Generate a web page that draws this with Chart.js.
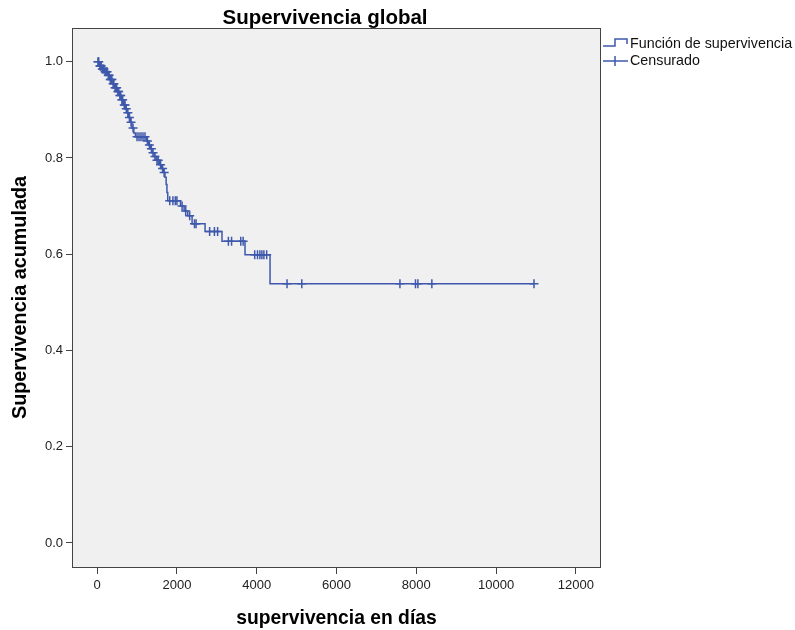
<!DOCTYPE html>
<html>
<head>
<meta charset="utf-8">
<script src="https://cdn.jsdelivr.net/npm/chart.js@4.4.1/dist/chart.umd.min.js"></script>
<style>
  html, body { margin: 0; padding: 0; background: #fff; }
  #wrap { width: 795px; height: 630px; }
</style>
</head>
<body>
<div id="wrap"><canvas id="km" width="795" height="630"></canvas></div>
<script>
// ticks
const xTicks = [0, 2000, 4000, 6000, 8000, 10000, 12000];
const yTicks = [0.0, 0.2, 0.4, 0.6, 0.8, 1.0];

// Kaplan-Meier steps (day of event, survival after the event)
const eventDays = [50, 120, 190, 260, 320, 380, 440, 500, 560, 610, 660, 710, 750, 790, 830, 870, 920, 960,
  1240, 1290, 1340, 1380, 1430, 1480, 1560, 1610, 1660, 1700, 1730, 1750, 1770,
  2090, 2180, 2270, 2380, 2705, 3130, 3707, 4334];
const eventSurv = [0.991, 0.985, 0.979, 0.972, 0.963, 0.954, 0.946, 0.938, 0.930, 0.921, 0.910, 0.902, 0.894, 0.884, 0.874, 0.862, 0.852, 0.844,
  0.835, 0.827, 0.819, 0.811, 0.803, 0.795, 0.786, 0.778, 0.770, 0.760, 0.745, 0.728, 0.711,
  0.700, 0.690, 0.680, 0.663, 0.647, 0.627, 0.599, 0.5385];

// censored cases (days)
const censorDays = [20, 40, 70, 90, 100, 130, 150, 170, 200, 230, 250, 280, 300, 330, 350, 370, 400, 420, 450, 470,
  490, 520, 540, 570, 590, 620, 640, 680, 700, 730,
  770, 810, 850, 900, 1000, 1050, 1100, 1150, 1200, 1260, 1310, 1360, 1400, 1450, 1500, 1530, 1590, 1640, 1680,
  1820, 1900, 1960, 2000, 2130, 2220, 2320, 2440, 2480, 2820, 2940, 3020, 3290, 3370, 3600, 3660,
  3950, 4020, 4080, 4130, 4180, 4250, 4760, 5130, 7590, 7980, 8040, 8390, 10950];

const blue = '#3e58ac';

function survAt(t) {
  let s = 1;
  for (let i = 0; i < eventDays.length; i++) {
    if (eventDays[i] <= t) s = eventSurv[i];
  }
  return s;
}

let linePts = [{x: 0, y: 1}];
eventDays.forEach((d, i) => linePts.push({x: d, y: eventSurv[i]}));
const lastDay = Math.max(...censorDays);
linePts.push({x: lastDay, y: survAt(lastDay)});

const censorPts = censorDays.map(d => ({x: d, y: survAt(d)}));

const framePlugin = {
  id: 'frame',
  beforeDraw(chart) {
    const {ctx, chartArea: a} = chart;
    ctx.save();
    ctx.fillStyle = '#f0f0f0';
    ctx.fillRect(a.left, a.top, a.right - a.left, a.bottom - a.top);
    ctx.restore();
  },
  afterDraw(chart) {
    const {ctx, chartArea: a} = chart;
    ctx.save();
    ctx.strokeStyle = '#444';
    ctx.lineWidth = 1;
    ctx.strokeRect(a.left + 0.5, a.top + 0.5, a.right - a.left - 1, a.bottom - a.top);

    // title
    ctx.fillStyle = '#000';
    ctx.font = 'bold 20.5px "Liberation Sans", Arial, sans-serif';
    ctx.textAlign = 'center';
    ctx.textBaseline = 'middle';
    ctx.fillText('Supervivencia global', 325, 18);

    // legend
    ctx.strokeStyle = blue;
    ctx.lineWidth = 1.5;
    ctx.beginPath();
    ctx.moveTo(603, 46); ctx.lineTo(615, 46); ctx.lineTo(615, 39);
    ctx.lineTo(627, 39); ctx.lineTo(627, 44);
    ctx.stroke();
    ctx.beginPath();
    ctx.moveTo(603, 61); ctx.lineTo(628, 61);
    ctx.moveTo(615, 56); ctx.lineTo(615, 66);
    ctx.stroke();
    ctx.fillStyle = '#111';
    ctx.font = '14.3px "Liberation Sans", Arial, sans-serif';
    ctx.textAlign = 'left';
    ctx.fillText('Función de supervivencia', 630, 44);
    ctx.fillText('Censurado', 630, 61);
    ctx.restore();
  }
};

new Chart(document.getElementById('km'), {
  type: 'scatter',
  data: {
    datasets: [
      {
        label: 'Función de supervivencia',
        data: linePts,
        showLine: true,
        stepped: true,
        borderColor: blue,
        borderWidth: 1.5,
        pointRadius: 0,
        fill: false
      },
      {
        label: 'Censurado',
        data: censorPts,
        showLine: false,
        pointStyle: 'cross',
        pointRadius: 4.5,
        borderColor: blue,
        borderWidth: 1.5
      }
    ]
  },
  options: {
    responsive: false,
    animation: false,
    layout: { padding: { top: 28, right: 194, left: 0, bottom: 0 } },
    plugins: {
      legend: { display: false },
      tooltip: { enabled: false },
      title: { display: false }
    },
    scales: {
      x: {
        type: 'linear',
        min: -630,
        max: 12630,
        afterBuildTicks: s => { s.ticks = xTicks.map(v => ({value: v})); },
        afterFit: s => { s.height = 63; },
        border: { display: false },
        grid: { drawOnChartArea: false, drawTicks: true, tickLength: 7, color: '#444' },
        ticks: {
          color: '#222', padding: 4, maxRotation: 0,
          font: { family: '"Liberation Sans", Arial', size: 13 },
          callback: v => String(v)
        },
        title: {
          display: true,
          text: 'supervivencia en días',
          color: '#000',
          padding: { top: 0, bottom: 0 },
          font: { family: '"Liberation Sans", Arial', size: 19.3, weight: 'bold' }
        }
      },
      y: {
        type: 'linear',
        min: -0.05,
        max: 1.07,
        afterBuildTicks: s => { s.ticks = yTicks.map(v => ({value: v})); },
        afterFit: s => { s.width = 72; },
        border: { display: false },
        grid: { drawOnChartArea: false, drawTicks: true, tickLength: 6, color: '#444' },
        ticks: {
          color: '#222', padding: 3,
          font: { family: '"Liberation Sans", Arial', size: 13 },
          callback: v => v.toFixed(1)
        },
        title: {
          display: true,
          text: 'Supervivencia acumulada',
          color: '#000',
          padding: { top: 9, bottom: 0 },
          font: { family: '"Liberation Sans", Arial', size: 19.8, weight: 'bold' }
        }
      }
    }
  },
  plugins: [framePlugin]
});
</script>
</body>
</html>
